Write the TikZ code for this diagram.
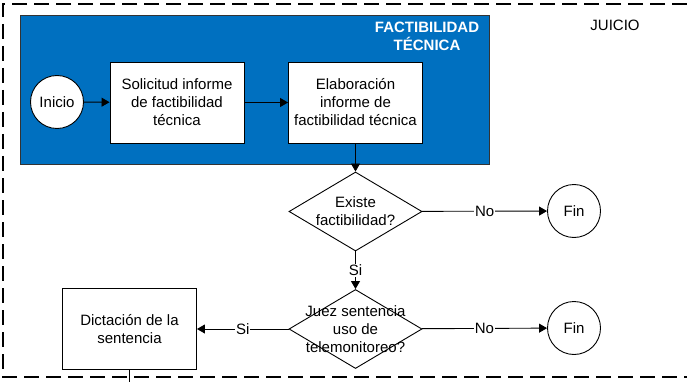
\documentclass[tikz,border=0pt]{standalone}
\usepackage{fontspec}
\setmainfont{Liberation Sans}
\usetikzlibrary{arrows.meta,shapes.geometric}
\definecolor{azul}{RGB}{0,112,192}

\begin{document}
\begin{tikzpicture}[x=1pt,y=-1pt,line width=0.9pt,
  font=\fontsize{15}{18}\selectfont,
  caja/.style={rectangle,draw,fill=white,minimum width=134pt,minimum height=81pt,align=center,inner sep=2pt},
  term/.style={circle,draw,fill=white,minimum size=53pt,inner sep=0pt},
  rombo/.style={diamond,draw,fill=white,minimum width=133pt,minimum height=79pt,inner sep=0pt},
  etiq/.style={fill=white,inner sep=1pt},
  flecha/.style={-{Triangle[length=8pt,width=9pt]}}]
\useasboundingbox (0,0) rectangle (687,382);
% marco del juicio
\draw[line width=2.4pt,dash pattern=on 15pt off 7pt] (687,4) -- (3,4) -- (3,377) -- (687,377);
\node[anchor=center] (juicio) at (615,25) {JUICIO};
% zona factibilidad tecnica
\node[rectangle,draw=black!80,fill=azul,minimum width=469pt,minimum height=149pt,inner sep=0pt] (zona) at (254.5,89.5) {};
\node[text=white,font=\fontsize{15}{18}\selectfont\bfseries,align=center] (titulo) at (427,36) {FACTIBILIDAD\\TÉCNICA};
\node[term] (inicio) at (57,102) {Inicio};
\node[caja] (solicitud) at (177,102.5) {Solicitud informe\\de factibilidad\\técnica};
\node[caja] (elabora) at (355.5,102.5) {Elaboración\\informe de\\factibilidad técnica};
% decisiones
\node[rombo,label={[align=center]center:Existe\\factibilidad?}] (existe) at (355.5,211.5) {};
\node[term] (fin1) at (574,211) {Fin};
\node[rombo,label={[align=center]center:Juez sentencia\\uso de\\telemonitoreo?}] (juez) at (355.5,329) {};
\node[term] (fin2) at (574,328) {Fin};
\node[caja] (dicta) at (129.5,329) {Dictación de la\\sentencia};
\coordinate (salida) at (129.5,382);
% conectores
\draw[flecha] (inicio) -- (solicitud);
\draw[flecha] (solicitud) -- (elabora);
\draw[flecha] (elabora) -- (existe);
\draw[flecha] (existe) -- node[etiq] {No} (fin1);
\draw[flecha] (existe) -- node[etiq] {Si} (juez);
\draw[flecha] (juez) -- node[etiq] {No} (fin2);
\draw[flecha] (juez) -- node[etiq] {Si} (dicta);
\draw (dicta) -- (salida);
\end{tikzpicture}
\end{document}
